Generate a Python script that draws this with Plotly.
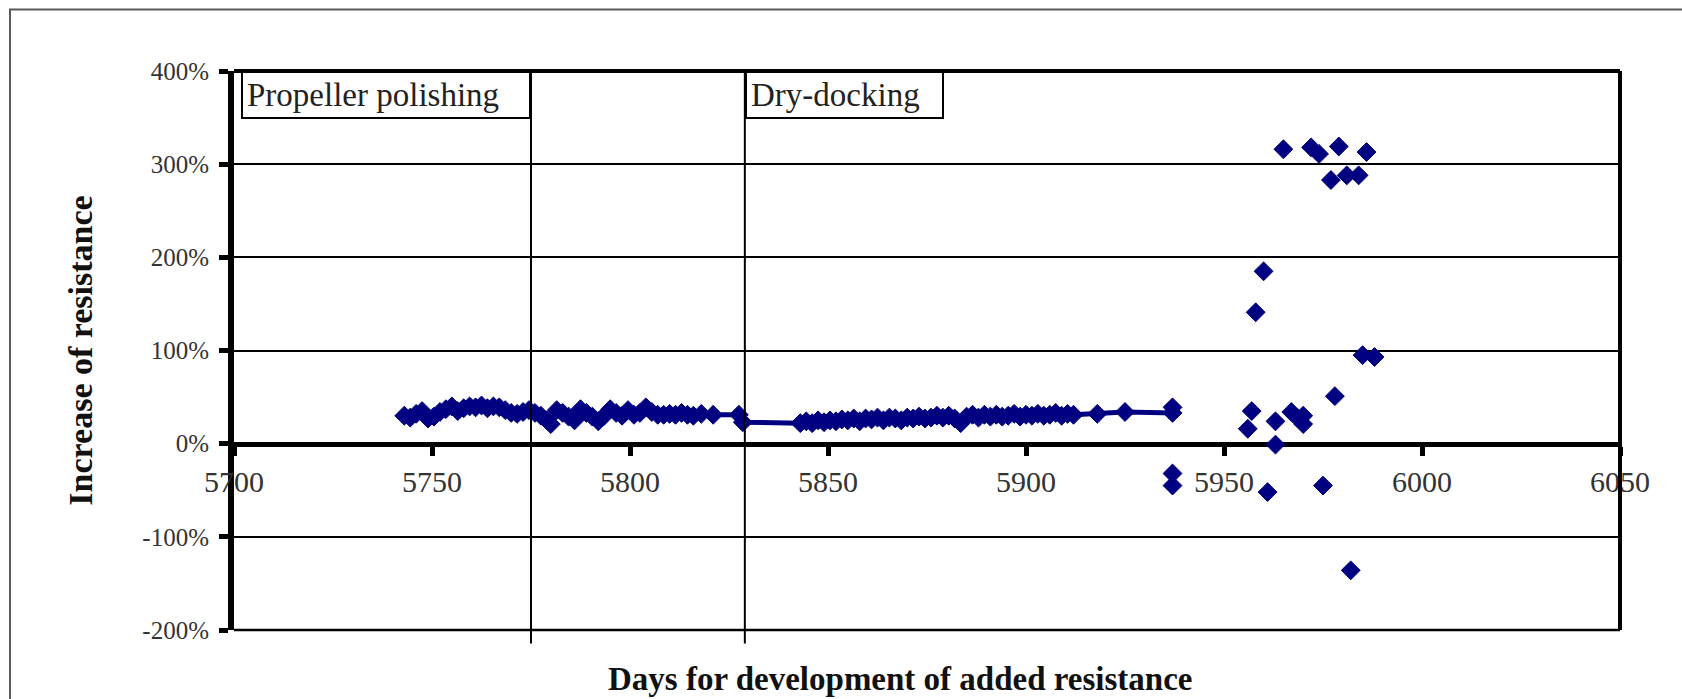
import plotly.graph_objects as go

# Daily added-resistance series (connected) up to day 5937
trend_days = [5743, 5744.5, 5746, 5747.5, 5749, 5750.5, 5752, 5753.5, 5755, 5756.5,
              5758, 5759.5, 5761, 5762.5, 5764, 5765.5, 5767, 5768.5, 5770, 5771.5,
              5773, 5774.5, 5776, 5777.5, 5779, 5780, 5781.5, 5783, 5784.5, 5786,
              5787.5, 5789, 5790.5, 5792, 5793.5, 5795, 5796.5, 5798, 5799.5, 5801,
              5802.5, 5804, 5805.5, 5807, 5808.5, 5810, 5811.5, 5813, 5814.5, 5816,
              5818, 5821, 5827.5, 5828.5,
              5843, 5844.5, 5846, 5847.5, 5849, 5850.5, 5852, 5853.5, 5855, 5856.5,
              5858, 5859.5, 5861, 5862.5, 5864, 5865.5, 5867, 5868.5, 5870, 5871.5,
              5873, 5874.5, 5876, 5877.5, 5879, 5880.5, 5882, 5883.5, 5885, 5886.5,
              5888, 5889.5, 5891, 5892.5, 5894, 5895.5, 5897, 5898.5, 5900, 5901.5,
              5903, 5904.5, 5906, 5907.5, 5909, 5910.5, 5912, 5918, 5925, 5937, 5937]
trend_vals = [30, 28, 32, 35, 27, 29, 34, 37, 40, 35,
              38, 40, 39, 41, 38, 40, 39, 36, 33, 32,
              34, 36, 33, 30, 25, 21, 36, 33, 29, 25,
              37, 33, 29, 24, 30, 37, 33, 30, 36, 31,
              33, 39, 34, 31, 31, 32, 31, 33, 31, 30,
              32, 31, 31, 23,
              22, 24, 22, 25, 23, 25, 24, 26, 25, 27,
              24, 27, 26, 28, 25, 28, 27, 25, 28, 27,
              29, 27, 28, 30, 28, 30, 27, 22, 29, 31,
              28, 31, 29, 31, 29, 30, 32, 29, 31, 30,
              32, 30, 31, 33, 30, 32, 31, 32, 34, 33, 39]

# Scattered readings after day 5937
scatter_days = [5937, 5937, 5956, 5957, 5958, 5960, 5961, 5963, 5963, 5965,
                5967, 5968.5, 5970, 5970, 5972, 5974, 5975, 5977, 5978, 5979,
                5981, 5982, 5984, 5985, 5986, 5988]
scatter_vals = [-32, -45, 16, 35, 141, 185, -52, 24, -1, 316,
                34, 28, 30, 21, 318, 311, -45, 283, 51, 319,
                288, -136, 288, 95, 313, 93]

# Events marked on the time axis
event_days = [5775, 5829]
event_labels = ["Propeller polishing", "Dry-docking"]

x_ticks = [5700, 5750, 5800, 5850, 5900, 5950, 6000, 6050]
y_ticks = [-200, -100, 0, 100, 200, 300, 400]
y_tick_text = ["-200%", "-100%", "0%", "100%", "200%", "300%", "400%"]

NAVY = "#000080"
SERIF = "Liberation Serif, Times New Roman, serif"
MARKER = dict(symbol="diamond", size=14.5, color=NAVY, line=dict(color=NAVY, width=1))

fig = go.Figure()
fig.add_trace(go.Scatter(
    x=trend_days, y=trend_vals, mode="lines+markers",
    line=dict(color=NAVY, width=5), marker=MARKER,
    showlegend=False, hoverinfo="x+y"))
fig.add_trace(go.Scatter(
    x=scatter_days, y=scatter_vals, mode="markers", marker=MARKER,
    showlegend=False, hoverinfo="x+y"))

shapes = []
# plot frame: heavy top and right edges, lighter bottom edge
shapes.append(dict(type="line", xref="x domain", yref="y domain", x0=0, x1=1, y0=1, y1=1,
                   line=dict(color="black", width=4), layer="above"))
shapes.append(dict(type="line", xref="x domain", yref="y domain", x0=1, x1=1, y0=0, y1=1,
                   line=dict(color="black", width=4), layer="above"))
shapes.append(dict(type="line", xref="x domain", yref="y domain", x0=0, x1=1, y0=0, y1=0,
                   line=dict(color="black", width=2.5), layer="above"))
# event markers
for d in event_days:
    shapes.append(dict(type="line", xref="x", yref="paper", x0=d, x1=d, y0=-0.024, y1=1,
                       line=dict(color="black", width=2), layer="above"))
# outer chart border
shapes.append(dict(type="rect", xref="paper", yref="paper", x0=-0.1616, x1=1.06,
                   y0=-0.2, y1=1.11, line=dict(color="#5a5a5a", width=2), layer="below"))

annotations = [
    dict(text=event_labels[0], xref="x", yref="y", x=event_days[0], y=400,
         xanchor="right", yanchor="top", showarrow=False, align="left", valign="middle",
         width=278, height=36, borderpad=4, borderwidth=2, bordercolor="black",
         bgcolor="white", font=dict(family=SERIF, size=33, color="#222")),
    dict(text=event_labels[1], xref="x", yref="y", x=event_days[1], y=400,
         xanchor="left", yanchor="top", showarrow=False, align="left", valign="middle",
         width=187, height=36, borderpad=4, borderwidth=2, bordercolor="black",
         bgcolor="white", font=dict(family=SERIF, size=33, color="#222")),
    dict(text="<b>Increase of resistance</b>", xref="paper", yref="paper",
         x=-0.111, y=0.5, xanchor="center", yanchor="middle", textangle=-90,
         showarrow=False, font=dict(family=SERIF, size=34, color="#111")),
    dict(text="<b>Days for development of added resistance</b>", xref="paper", yref="paper",
         x=0.4812, y=-0.088, xanchor="center", yanchor="middle",
         showarrow=False, font=dict(family=SERIF, size=33, color="#111")),
]

fig.update_layout(
    width=1682, height=699,
    margin=dict(l=234, r=62, t=71, b=69),
    paper_bgcolor="white", plot_bgcolor="white",
    shapes=shapes, annotations=annotations,
    showlegend=False,
    xaxis=dict(
        range=[5700, 6050], tickvals=x_ticks, ticktext=[str(v) for v in x_ticks],
        anchor="free", position=1/3, showgrid=False, zeroline=False,
        showline=True, linecolor="black", linewidth=5,
        ticks="outside", ticklen=9, tickwidth=5, tickcolor="black",
        tickfont=dict(family=SERIF, size=30, color="#333"),
        layer="below traces"),
    yaxis=dict(
        range=[-200, 400], tickvals=y_ticks, ticktext=y_tick_text,
        showgrid=True, gridcolor="black", gridwidth=1.5, zeroline=False,
        showline=True, linecolor="black", linewidth=6,
        ticks="outside", ticklen=9, tickwidth=5, tickcolor="black",
        ticklabelstandoff=5,
        tickfont=dict(family=SERIF, size=25, color="#333"),
        layer="below traces"),
)

fig.write_html("out.html")
